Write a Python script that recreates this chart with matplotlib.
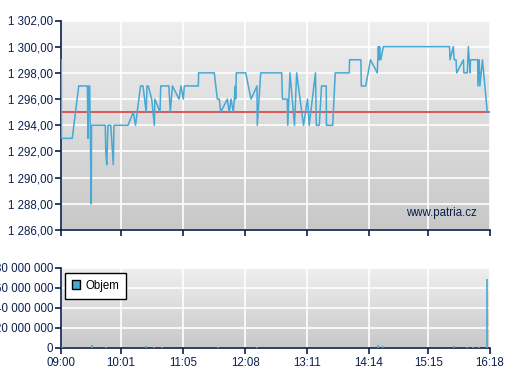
import numpy as np
import matplotlib.pyplot as plt
from matplotlib.ticker import FuncFormatter
from matplotlib.patches import Patch

# data: minutes after 09:00
price_min = [0.3, 0.5, 11.5, 18.1, 26.9, 27.6, 28.3, 29.3, 30.9, 31.2, 45.2, 45.7, 46.7, 48.0,
             50.8, 53.4, 54.1, 68.4, 73.8, 76.1, 81.2, 83.7, 87.0, 87.8, 89.1, 92.6, 95.3, 95.8,
             101.1, 101.8, 110.1, 111.6, 113.8, 120.5, 122.5, 124.9, 125.9, 140.2, 140.5, 156.5,
             159.6, 161.6, 163.1, 169.8, 171.8, 173.6, 175.9, 178.0, 178.3, 179.0, 188.6, 194.0,
             200.1, 200.4, 203.9, 225.3, 226.1, 231.0, 231.5, 233.8, 238.4, 240.6, 247.6, 251.7,
             253.4, 259.8, 260.7, 263.7, 266.0, 270.8, 271.0, 277.4, 280.0, 294.3, 294.6, 306.2,
             306.6, 311.1, 316.0, 322.9, 324.0, 324.7, 325.3, 326.0, 326.5, 329.1, 396.7, 397.2,
             400.5, 401.4, 403.3, 404.0, 410.9, 411.3, 414.8, 415.9, 417.6, 418.1, 425.4, 425.7,
             427.0, 427.7, 430.3, 435.2, 438.0]
price = [1299, 1293, 1293, 1297, 1297, 1293, 1297, 1297, 1288, 1294, 1294, 1292, 1291, 1294,
         1294, 1291, 1294, 1294, 1295, 1294, 1297, 1297, 1295, 1297, 1297, 1296, 1294, 1296,
         1295, 1297, 1297, 1295, 1297, 1296, 1297, 1296, 1297, 1297, 1298, 1298,
         1296, 1296, 1295, 1296, 1295, 1296, 1295, 1297, 1296, 1298, 1298, 1296,
         1297, 1294, 1298, 1298, 1296, 1296, 1294, 1298, 1294, 1298, 1294, 1296,
         1294, 1298, 1294, 1294, 1297, 1297, 1294, 1294, 1298, 1298, 1299, 1299,
         1297, 1297, 1299, 1298, 1300, 1299, 1300, 1299, 1299, 1300, 1300, 1299,
         1300, 1299, 1299, 1298, 1299, 1298, 1298, 1300, 1298, 1299, 1299, 1297,
         1299, 1297, 1299, 1295, 1295]
prev_close = 1295

vol_min = [0.7, 31.3, 45.6, 86.5, 95.3, 102.8, 160.0, 200.4, 324.0, 329.0, 401.6, 414.8, 420.3, 427.1, 435.2]
volume = [1e6, 3e6, 1e6, 2e6, 1e6, 1e6, 1e6, 1e6, 3e6, 2e6, 2e6, 1e6, 1e6, 1e6, 69e6]

tick_pos = [0, 61, 125, 188, 251, 314, 375, 438]
tick_lab = ["09:00", "10:01", "11:05", "12:08", "13:11", "14:14", "15:15", "16:18"]

navy = "#0b1f4f"
blue = "#45a8d5"
plt.rcParams['font.family'] = ['Liberation Sans', 'DejaVu Sans']
plt.rcParams['font.size'] = 8.3

fig = plt.figure(figsize=(5.07, 3.80), dpi=100)
ax1 = fig.add_axes([61/507, 150/380, 429/507, 209.5/380])
ax2 = fig.add_axes([61/507, 32/380, 429/507, 80/380])

grad = np.linspace(0, 1, 256).reshape(-1, 1)


def style(ax, ylim):
    ax.imshow(grad, extent=[0, 438, ylim[0], ylim[1]], aspect='auto', origin='upper',
              cmap=plt.matplotlib.colors.LinearSegmentedColormap.from_list('g', ['#efefef', '#c8c8c8']),
              zorder=0)
    ax.set_xlim(0, 438)
    ax.set_ylim(*ylim)
    ax.set_axisbelow(True)
    ax.grid(True, color='white', lw=1.2)
    for s in ['top', 'right']:
        ax.spines[s].set_visible(False)
    for s in ['left', 'bottom']:
        ax.spines[s].set_color(navy)
        ax.spines[s].set_linewidth(1.2)
    ax.tick_params(colors=navy, direction='out', length=4.5, width=1.2, pad=1, labelcolor=navy)
    ax.tick_params(axis='x', pad=2)
    ax.set_xticks(tick_pos)


style(ax1, (1286, 1302))
ax1.set_yticks(np.arange(1286, 1303, 2))
ax1.yaxis.set_major_formatter(FuncFormatter(
    lambda v, p: f"{v:,.2f}".replace(",", " ").replace(".", ",")))
ax1.set_xticklabels([])
ax1.plot(price_min, price, color=blue, lw=1.1, zorder=3)
ax1.axhline(prev_close, color='#e03030', lw=1.1, zorder=2.5)
ax1.text(0.97, 0.08, "www.patria.cz", transform=ax1.transAxes, ha='right', va='center',
         color=navy, fontsize=8.3)

style(ax2, (0, 80e6))
ax2.set_yticks(np.arange(0, 80e6 + 1, 20e6))
ax2.yaxis.set_major_formatter(FuncFormatter(lambda v, p: f"{v:,.0f}".replace(",", " ")))
ax2.set_xticklabels(tick_lab)
ax2.vlines(vol_min, 0, volume, color=blue, lw=1.2, zorder=3)
leg = ax2.legend(handles=[Patch(facecolor=blue, edgecolor='black', label='Objem')],
                 loc='upper left', bbox_to_anchor=(0.009, 0.94), fancybox=False,
                 framealpha=1, edgecolor='black', handlelength=0.75, handleheight=0.75,
                 handletextpad=0.4, borderpad=0.6, borderaxespad=0, fontsize=8.3)
leg.get_frame().set_facecolor((1, 1, 1, 0))
leg.get_frame().set_linewidth(1.0)

fig.savefig("out.png", dpi=100)
